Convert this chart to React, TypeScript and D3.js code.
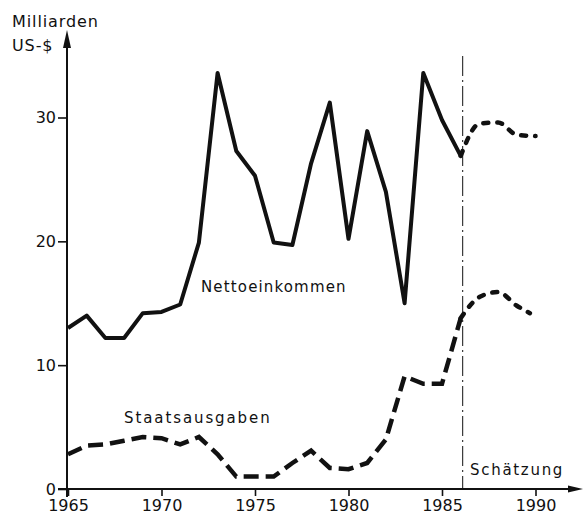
import React, { useRef, useEffect } from "react";
import * as d3 from "d3";

// Werte in Milliarden US-$
const years = [
  1965, 1966, 1967, 1968, 1969, 1970, 1971, 1972, 1973, 1974, 1975,
  1976, 1977, 1978, 1979, 1980, 1981, 1982, 1983, 1984, 1985, 1986,
];
const nettoeinkommen = [
  13.0, 14.0, 12.2, 12.2, 14.2, 14.3, 14.9, 19.9, 33.6, 27.3, 25.3,
  19.9, 19.7, 26.3, 31.2, 20.2, 28.9, 24.0, 15.0, 33.6, 29.8, 26.9,
];
const staatsausgaben = [
  2.8, 3.5, 3.6, 3.9, 4.2, 4.1, 3.6, 4.2, 2.8, 1.0, 1.0,
  1.0, 2.1, 3.1, 1.7, 1.6, 2.1, 4.0, 9.1, 8.5, 8.5, 13.8,
];

// Schätzung ab 1986
const estYears = [1986, 1987, 1988, 1989, 1990];
const nettoEst = [26.9, 29.5, 29.6, 28.6, 28.5];
const staatEst = [13.8, 15.5, 15.9, 14.8, 14.2];
const estStaatEnd = 1989.7;

const xTicks = [1965, 1970, 1975, 1980, 1985, 1990];
const yTicks = [0, 10, 20, 30];
const estimateYear = 1986;

const dimensions: any = {
  width: 583,
  height: 516,
  x0: 68,
  x1: 535.5,
  y0: 489,
  y30: 117.5,
};

const font = "'DejaVu Sans', sans-serif";
const ink = "#111";

const Chart = () => {
  const ref = useRef(null);

  useEffect(() => {
    const svg = d3.select(ref.current);
    svg.selectAll("*").remove();

    const xScale = d3
      .scaleLinear()
      .domain([1965, 1990])
      .range([dimensions.x0, dimensions.x1]);
    const yScale = d3
      .scaleLinear()
      .domain([0, 30])
      .range([dimensions.y0, dimensions.y30]);

    const axisX = 67;
    const axisY = dimensions.y0;

    // Achsen
    const xAxis = d3
      .axisBottom(xScale)
      .tickValues(xTicks)
      .tickSize(7)
      .tickSizeOuter(0)
      .tickPadding(4)
      .tickFormat((d: any) => String(d));
    const gx = svg
      .append("g")
      .attr("transform", `translate(0,${axisY})`)
      .call(xAxis);
    gx.select(".domain").remove();
    gx.selectAll("line").attr("stroke", ink).attr("stroke-width", 1.6);
    gx.selectAll("text")
      .attr("fill", ink)
      .style("font-family", font)
      .style("font-size", "16px");

    const yAxis = d3
      .axisLeft(yScale)
      .tickValues(yTicks)
      .tickSize(9)
      .tickSizeOuter(0)
      .tickPadding(2);
    const gy = svg
      .append("g")
      .attr("transform", `translate(${axisX},0)`)
      .call(yAxis);
    gy.select(".domain").remove();
    gy.selectAll("line").attr("stroke", ink).attr("stroke-width", 1.6);
    gy.selectAll("text")
      .attr("fill", ink)
      .style("font-family", font)
      .style("font-size", "16px");

    // Achsenlinien mit Pfeilen
    svg
      .append("line")
      .attr("x1", 58)
      .attr("x2", 568)
      .attr("y1", axisY)
      .attr("y2", axisY)
      .attr("stroke", ink)
      .attr("stroke-width", 2);
    svg
      .append("path")
      .attr("d", `M568,${axisY - 3.5} L583,${axisY} L568,${axisY + 3.5} Z`)
      .attr("fill", ink);
    svg
      .append("line")
      .attr("x1", axisX)
      .attr("x2", axisX)
      .attr("y1", 497)
      .attr("y2", 46)
      .attr("stroke", ink)
      .attr("stroke-width", 2);
    svg
      .append("path")
      .attr("d", `M${axisX - 4},48 L${axisX},30 L${axisX + 4},48 Z`)
      .attr("fill", ink);

    // Schätzungsgrenze
    svg
      .append("line")
      .attr("x1", xScale(estimateYear) + 2)
      .attr("x2", xScale(estimateYear) + 2)
      .attr("y1", 56)
      .attr("y2", axisY)
      .attr("stroke", ink)
      .attr("stroke-width", 1)
      .attr("stroke-dasharray", "20 4 2 4");

    const line = d3
      .line<number>()
      .x((_, i) => xScale(years[i]))
      .y((d) => yScale(d));

    svg
      .append("path")
      .attr("d", line(nettoeinkommen))
      .attr("fill", "none")
      .attr("stroke", ink)
      .attr("stroke-width", 4)
      .attr("stroke-linejoin", "round");

    svg
      .append("path")
      .attr("d", line(staatsausgaben))
      .attr("fill", "none")
      .attr("stroke", ink)
      .attr("stroke-width", 4.5)
      .attr("stroke-dasharray", "15 7");

    const estLine = (xs: number[]) =>
      d3
        .line<number>()
        .x((_, i) => xScale(xs[i]))
        .y((d) => yScale(d))
        .curve(d3.curveMonotoneX);

    svg
      .append("path")
      .attr("d", estLine(estYears)(nettoEst))
      .attr("fill", "none")
      .attr("stroke", ink)
      .attr("stroke-width", 4.5)
      .attr("stroke-linecap", "round")
      .attr("stroke-dasharray", "5 9");

    const staatEstX = [...estYears.slice(0, 4), estStaatEnd];
    svg
      .append("path")
      .attr("d", estLine(staatEstX)(staatEst))
      .attr("fill", "none")
      .attr("stroke", ink)
      .attr("stroke-width", 4.5)
      .attr("stroke-linecap", "round")
      .attr("stroke-dasharray", "5 9");

    // Beschriftungen
    const label = (
      txt: string,
      x: number,
      y: number,
      spacing: number,
      size = 15
    ) =>
      svg
        .append("text")
        .attr("x", x)
        .attr("y", y)
        .attr("fill", ink)
        .style("font-family", font)
        .style("font-size", `${size}px`)
        .style("letter-spacing", `${spacing}px`)
        .text(txt);

    label("Milliarden", 12, 27, 0.9, 16);
    label("US-$", 12, 51, 0.9, 16);
    label("Nettoeinkommen", 201, 292, 1.15);
    label("Staatsausgaben", 124, 423, 1.9);
    label("Schätzung", 470, 475, 1.7);

    return () => undefined;
  }, []);

  return (
    <svg
      ref={ref}
      width={dimensions.width}
      height={dimensions.height}
      style={{ position: "absolute", left: 0, top: 0, background: "#fff" }}
    />
  );
};

export default function App() {
  return <Chart />;
}
